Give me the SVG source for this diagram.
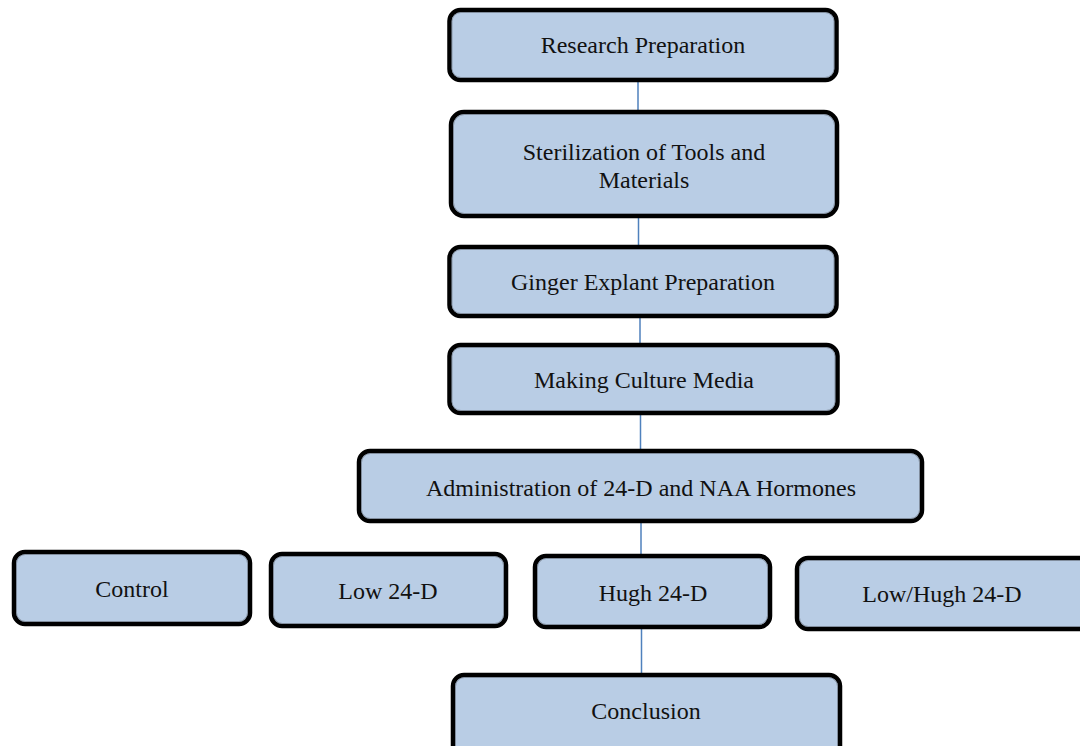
<svg xmlns="http://www.w3.org/2000/svg" width="1080" height="746" viewBox="0 0 1080 746">
<style>
.box{fill:#B9CDE5;stroke:#000;stroke-width:4.5}
.inner{fill:none;stroke:#7F8A99;stroke-width:0.8}
.lbl{font-family:"Liberation Serif","Times New Roman",serif;font-size:24px;fill:#111;text-anchor:middle}
.conn{stroke:#4F81BD;stroke-width:1.5;fill:none}
</style>
<rect width="1080" height="746" fill="#fff"/>
<g id="connectors">
<line class="conn" x1="638" y1="80" x2="638" y2="112"/>
<line class="conn" x1="638.5" y1="216" x2="638.5" y2="247"/>
<line class="conn" x1="640" y1="316" x2="640" y2="345"/>
<line class="conn" x1="640.5" y1="413" x2="640.5" y2="451"/>
<line class="conn" x1="641" y1="521" x2="641" y2="556"/>
<line class="conn" x1="641.5" y1="627" x2="641.5" y2="675"/>
</g>
<g id="n1">
<rect class="box" x="449.5" y="10" width="387" height="70" rx="11"/>
<rect class="inner" x="452" y="12.5" width="382" height="65" rx="9"/>
<text class="lbl" x="643" y="53">Research Preparation</text>
</g>
<g id="n2">
<rect class="box" x="451" y="112" width="386" height="104" rx="13"/>
<rect class="inner" x="453.5" y="114.5" width="381" height="99" rx="11"/>
<text class="lbl" x="644" y="160">Sterilization of Tools and</text>
<text class="lbl" x="644" y="188">Materials</text>
</g>
<g id="n3">
<rect class="box" x="449.5" y="247" width="387" height="69" rx="11"/>
<rect class="inner" x="452" y="249.5" width="382" height="64" rx="9"/>
<text class="lbl" x="643" y="290">Ginger Explant Preparation</text>
</g>
<g id="n4">
<rect class="box" x="449.5" y="345" width="388" height="68" rx="11"/>
<rect class="inner" x="452" y="347.5" width="383" height="63" rx="9"/>
<text class="lbl" x="644" y="388">Making Culture Media</text>
</g>
<g id="n5">
<rect class="box" x="359" y="451" width="563" height="70" rx="11"/>
<rect class="inner" x="361.5" y="453.5" width="558" height="65" rx="9"/>
<text class="lbl" x="641" y="496">Administration of 24-D and NAA Hormones</text>
</g>
<g id="n6">
<rect class="box" x="14" y="552" width="236" height="72" rx="11"/>
<rect class="inner" x="16.5" y="554.5" width="231" height="67" rx="9"/>
<text class="lbl" x="132" y="597">Control</text>
</g>
<g id="n7">
<rect class="box" x="271" y="554" width="235" height="72" rx="11"/>
<rect class="inner" x="273.5" y="556.5" width="230" height="67" rx="9"/>
<text class="lbl" x="388" y="599">Low 24-D</text>
</g>
<g id="n8">
<rect class="box" x="535" y="556" width="235" height="71" rx="11"/>
<rect class="inner" x="537.5" y="558.5" width="230" height="66" rx="9"/>
<text class="lbl" x="653" y="601">Hugh 24-D</text>
</g>
<g id="n9">
<rect class="box" x="797" y="558" width="300" height="71" rx="11"/>
<rect class="inner" x="799.5" y="560.5" width="295" height="66" rx="9"/>
<text class="lbl" x="942" y="602">Low/Hugh 24-D</text>
</g>
<g id="n10">
<rect class="box" x="453" y="675" width="387" height="90" rx="11"/>
<rect class="inner" x="455.5" y="677.5" width="382" height="85" rx="9"/>
<text class="lbl" x="646" y="719">Conclusion</text>
</g>
</svg>
